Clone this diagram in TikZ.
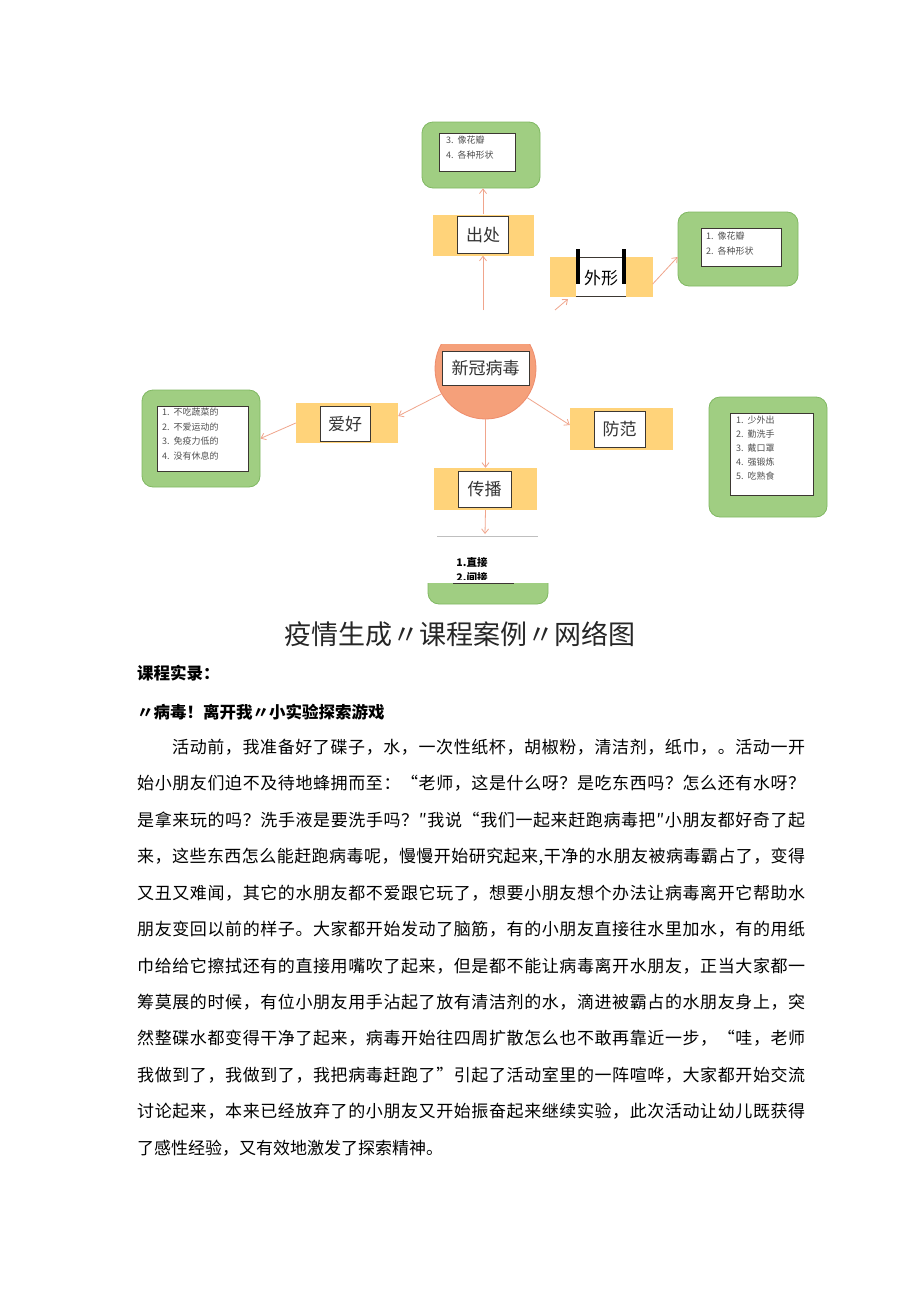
\documentclass[tikz,border=0pt]{standalone}
\usepackage{fontspec}
\setmainfont{Noto Sans CJK SC}
\usetikzlibrary{arrows.meta,calc}
\definecolor{obg}{RGB}{255,211,122}
\definecolor{gbg}{RGB}{160,206,130}
\definecolor{gbd}{RGB}{128,184,98}
\definecolor{cbg}{RGB}{245,160,122}
\definecolor{cbd}{RGB}{238,140,108}
\definecolor{arc}{RGB}{240,165,140}
\definecolor{ibd}{RGB}{60,55,50}
\definecolor{stx}{RGB}{80,80,80}
\def\spr#1{\ifx#1\relax\else#1\hfil\expandafter\spr\fi}
\tikzset{
  obox/.style={fill=obg, draw=none, inner sep=0pt},
  gbox/.style={fill=gbg, draw=gbd, line width=0.8pt, rounded corners=11pt, inner sep=0pt},
  ibox/.style={fill=white, draw=ibd, line width=0.9pt, inner sep=0pt},
  lab/.style={font=\fontsize{17pt}{19pt}\selectfont, text=black!80},
  small/.style={font=\fontsize{9pt}{14.5pt}\selectfont, text=stx, align=left, anchor=north west, inner sep=0pt},
  arr/.style={draw=arc, line width=0.8pt, -{Straight Barb[length=4.5pt,width=7pt]}},
  bodyline/.style={anchor=west, inner sep=0pt, font=\fontsize{17pt}{19pt}\selectfont}
}
\begin{document}
\begin{tikzpicture}[x=1pt,y=-1pt]
\useasboundingbox (0,0) rectangle (920,1301);
\fill[white] (0,0) rectangle (920,1301);

% top green box
\node[gbox, minimum width=118pt, minimum height=66pt] (g1) at (481,155) {};
\node[ibox, minimum width=76pt, minimum height=38pt] (g1i) at (477,152) {};
\node[small] (g1t) at (446,136) {3.\ \ 像花瓣\\4.\ \ 各种形状};

% chuchu
\node[obox, minimum width=101pt, minimum height=41pt] (chuchu) at (483,235) {};
\node[ibox, lab, minimum width=51pt, minimum height=37pt] (chuchui) at (483,235) {出处};

% waixing
\node[obox, minimum width=103pt, minimum height=40pt] (wx) at (601,277) {};
\fill[white] (576,257) rectangle (626,296);
\draw[ibd, line width=0.8pt] (576,257) -- (626,257);
\draw[ibd, line width=0.8pt] (576,296) -- (626,296);
\draw[black, line width=4pt] (578,249) -- (578,284);
\draw[black, line width=4pt] (624,249) -- (624,284);
\node[font=\fontsize{17pt}{19pt}\selectfont, text=black] (wxt) at (601,278) {外形};

% right top green
\node[gbox, minimum width=120pt, minimum height=74pt] (g2) at (738,249) {};
\node[ibox, minimum width=80pt, minimum height=38pt] (g2i) at (741,247) {};
\node[small] (g2t) at (706,232) {1.\ \ 像花瓣\\2.\ \ 各种形状};

% circle
\begin{scope}
\clip (400,344) rectangle (580,440);
\node[circle, fill=cbg, draw=cbd, line width=0.8pt, minimum size=101pt, inner sep=0pt] (circ) at (485.5,368.5) {};
\end{scope}
\node[ibox, lab, minimum width=87pt, minimum height=34pt] (circi) at (485.5,368) {新冠病毒};

% aihao
\node[obox, minimum width=102pt, minimum height=40pt] (aihao) at (347,423) {};
\node[ibox, lab, minimum width=50pt, minimum height=35pt] (aihaoi) at (345,424) {爱好};

% left green
\node[gbox, minimum width=118pt, minimum height=97pt] (g3) at (201,438.5) {};
\node[ibox, minimum width=91pt, minimum height=65pt] (g3i) at (202.5,438.5) {};
\node[small] (g3t) at (162,408) {1.\ \ 不吃蔬菜的\\2.\ \ 不爱运动的\\3.\ \ 免疫力低的\\4.\ \ 没有休息的};

% fangfan
\node[obox, minimum width=103pt, minimum height=42pt] (ff) at (621.5,429) {};
\node[ibox, lab, minimum width=51pt, minimum height=36pt] (ffi) at (619.5,429) {防范};

% right green
\node[gbox, minimum width=118pt, minimum height=120pt] (g4) at (768,457) {};
\node[ibox, minimum width=83pt, minimum height=82pt] (g4i) at (771.5,454) {};
\node[small, font=\fontsize{9pt}{14pt}\selectfont] (g4t) at (736,416) {1.\ \ 少外出\\2.\ \ 勤洗手\\3.\ \ 戴口罩\\4.\ \ 强锻炼\\5.\ \ 吃熟食};

% chuanbo
\node[obox, minimum width=103pt, minimum height=42pt] (cb) at (485.5,489) {};
\node[ibox, lab, minimum width=53pt, minimum height=36pt] (cbi) at (484.5,489) {传播};

% bottom partial green box
\node[gbox, minimum width=120pt, minimum height=64pt] (g5) at (488,572) {};
\fill[white] (424,537) rectangle (552,583);
\draw[black!25, line width=0.5pt] (437,536.5) -- (538,536.5);
\draw[ibd, line width=1pt] (453,583) -- (514,583);
\node[font=\bfseries\fontsize{10.5pt}{12pt}\selectfont, text=black, inner sep=0pt] (zj) at (472,562) {1.直接};
\begin{scope}
\clip (440,570) rectangle (520,579.5);
\node[font=\bfseries\fontsize{10.5pt}{12pt}\selectfont, text=black, inner sep=0pt] (jj) at (472,578) {2.间接};
\end{scope}

% connectors
\coordinate (a1) at (483,310);
\coordinate (a2) at (555,310);
\coordinate (a3) at (568,299);
\coordinate (a4) at (485,534);
\draw[arr] (a1) -- (chuchu.south);
\draw[arr] (chuchu.north) -- (chuchu.north |- g1.south);
\draw[arr] (a2) -- (a3);
\draw[arr] ($(wx.east)+(0,7)$) -- ($(g2.west)+(0,8)$);
\draw[arr] (circ.210) -- ($(aihao.east)+(0,-7)$);
\draw[arr] (aihao.west) -- (g3.east);
\draw[arr] (circ.-35) -- ($(ff.west)+(0,-4)$);
\draw[arr] (circ.south) -- (cb.north);
\draw[arr] (cb.south) -- (a4);

% title
\node[font=\fontsize{27pt}{30pt}\selectfont, text=black!85, inner sep=0pt] (title) at (460,634) {疫情生成〃课程案例〃网络图};

\node[anchor=west, inner sep=0pt, font=\bfseries\fontsize{16.5pt}{19pt}\selectfont] (h1) at (137,673) {课程实录：};
\node[anchor=west, inner sep=0pt, font=\bfseries\fontsize{16.5pt}{19pt}\selectfont] (h2) at (137,712) {〃病毒！离开我〃小实验探索游戏};

\node[bodyline] (l1) at (172,747) {\hbox to 633pt{\spr 活动前，我准备好了碟子，水，一次性纸杯，胡椒粉，清洁剂，纸巾，。活动一开\relax\unskip}};
\node[bodyline] (l2) at (137,783.5) {\hbox to 668pt{\spr 始小朋友们迫不及待地蜂拥而至：“老师，这是什么呀？是吃东西吗？怎么还有水呀？\relax\unskip}};
\node[bodyline] (l3) at (137,820) {\hbox to 668pt{\spr 是拿来玩的吗？洗手液是要洗手吗？″我说“我们一起来赶跑病毒把″小朋友都好奇了起\relax\unskip}};
\node[bodyline] (l4) at (137,856.5) {\hbox to 668pt{\spr 来，这些东西怎么能赶跑病毒呢，慢慢开始研究起来,干净的水朋友被病毒霸占了，变得\relax\unskip}};
\node[bodyline] (l5) at (137,893) {\hbox to 668pt{\spr 又丑又难闻，其它的水朋友都不爱跟它玩了，想要小朋友想个办法让病毒离开它帮助水\relax\unskip}};
\node[bodyline] (l6) at (137,929.5) {\hbox to 668pt{\spr 朋友变回以前的样子。大家都开始发动了脑筋，有的小朋友直接往水里加水，有的用纸\relax\unskip}};
\node[bodyline] (l7) at (137,966) {\hbox to 668pt{\spr 巾给给它擦拭还有的直接用嘴吹了起来，但是都不能让病毒离开水朋友，正当大家都一\relax\unskip}};
\node[bodyline] (l8) at (137,1002) {\hbox to 668pt{\spr 筹莫展的时候，有位小朋友用手沾起了放有清洁剂的水，滴进被霸占的水朋友身上，突\relax\unskip}};
\node[bodyline] (l9) at (137,1038.5) {\hbox to 668pt{\spr 然整碟水都变得干净了起来，病毒开始往四周扩散怎么也不敢再靠近一步，“哇，老师\relax\unskip}};
\node[bodyline] (l10) at (137,1075) {\hbox to 668pt{\spr 我做到了，我做到了，我把病毒赶跑了”引起了活动室里的一阵喧哗，大家都开始交流\relax\unskip}};
\node[bodyline] (l11) at (137,1111.5) {\hbox to 668pt{\spr 讨论起来，本来已经放弃了的小朋友又开始振奋起来继续实验，此次活动让幼儿既获得\relax\unskip}};
\node[bodyline] (l12) at (137,1148) {了感性经验，又有效地激发了探索精神。};
\end{tikzpicture}
\end{document}
